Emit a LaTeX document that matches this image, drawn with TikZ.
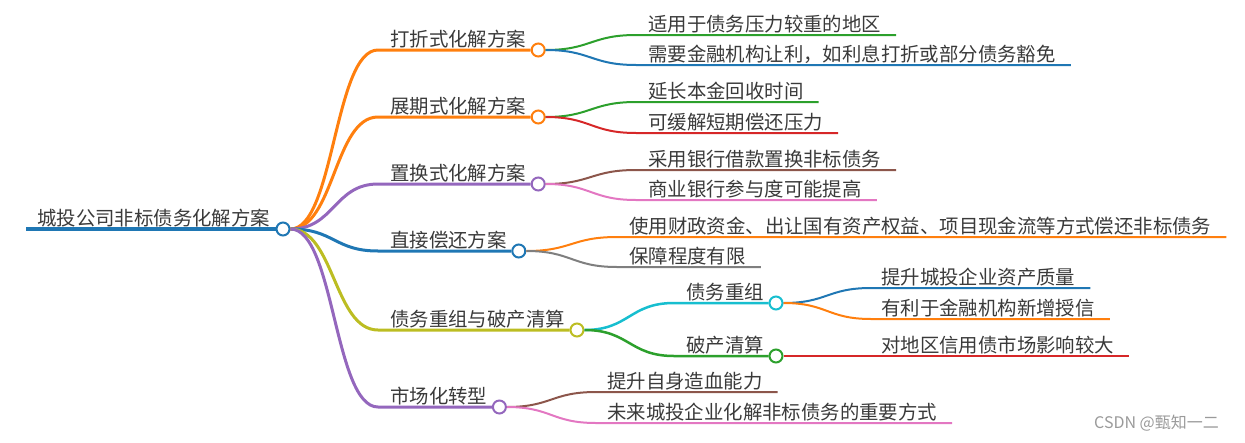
\documentclass[tikz,border=0pt]{standalone}
\usepackage{fontspec}
\setmainfont{Noto Sans CJK SC}
\usetikzlibrary{calc}
\definecolor{cOrange}{HTML}{FF7F0E}
\definecolor{cPurple}{HTML}{9467BD}
\definecolor{cBlue}{HTML}{1F77B4}
\definecolor{cOlive}{HTML}{BCBD22}
\definecolor{cCyan}{HTML}{17BECF}
\definecolor{cGreen}{HTML}{2CA02C}
\definecolor{cRed}{HTML}{D62728}
\definecolor{cBrown}{HTML}{8C564B}
\definecolor{cPink}{HTML}{E377C2}
\definecolor{cGray}{HTML}{7F7F7F}
\definecolor{txt}{HTML}{3A3A3A}
\definecolor{wm}{HTML}{9A9A9A}
\tikzset{
  lbl/.style={anchor=base west, inner sep=0pt, text=txt, font=\fontsize{19.4pt}{22pt}\selectfont},
  dot/.style={circle, draw=#1, fill=white, line width=2pt, minimum size=13pt, inner sep=0pt},
}
% leaf: #1 parent, #2 name, #3 hx, #4 y, #5 tx, #6 colour, #7 text
\newcommand{\mmleaf}[7]{%
  \coordinate (#2h) at (#3,#4);
  \node[lbl] (#2t) at (#5,#4-4) {#7};
  \draw[#6, line width=2pt] let \p1=(#1.east), \p2=(#2h) in
    (\p1) .. controls ({(\x1+\x2)/2},\y1) and ({(\x1+\x2)/2},\y2) .. (\p2)
    -- ($(#2h -| #2t.east)+(15,0)$);
}
% inner: #1 parent, #2 name, #3 hx, #4 y, #5 tx, #6 colour, #7 text, #8 line width
\newcommand{\mmmid}[8]{%
  \coordinate (#2h) at (#3,#4);
  \node[lbl] (#2t) at (#5,#4-4) {#7};
  \node[dot=#6] (#2) at ($(#2t.east |- #2h)+(12,0)$) {};
  \draw[#6, line width=#8] let \p1=(#1.east), \p2=(#2h) in
    (\p1) .. controls ({(\x1+\x2)/2},\y1) and ({(\x1+\x2)/2},\y2) .. (\p2)
    -- (#2.west);
}
\begin{document}
\begin{tikzpicture}[x=1pt,y=-1pt]
\useasboundingbox (0,0) rectangle (1245,442);
% root
\coordinate (r0) at (26,229);
\node[dot=cBlue] (root) at (283,229) {};
\draw[cBlue, line width=4pt] (r0) -- (root.west);
\node[lbl] (roott) at (37,225) {城投公司非标债务化解方案};
% level 1
\mmmid{root}{A}{378}{50}{390}{cOrange}{打折式化解方案}{3pt}
\mmmid{root}{B}{378}{117}{390}{cOrange}{展期式化解方案}{3pt}
\mmmid{root}{C}{378}{184}{390}{cPurple}{置换式化解方案}{3pt}
\mmmid{root}{D}{378}{251}{390}{cBlue}{直接偿还方案}{3pt}
\mmmid{root}{E}{378}{330}{390}{cOlive}{债务重组与破产清算}{3pt}
\mmmid{root}{F}{378}{407}{390}{cPurple}{市场化转型}{3pt}
% level 2
\mmleaf{A}{Aa}{636}{35}{648}{cGreen}{适用于债务压力较重的地区}
\mmleaf{A}{Ab}{636}{65}{648}{cBlue}{需要金融机构让利，如利息打折或部分债务豁免}
\mmleaf{B}{Ba}{636}{102}{648}{cGreen}{延长本金回收时间}
\mmleaf{B}{Bb}{636}{133}{648}{cRed}{可缓解短期偿还压力}
\mmleaf{C}{Ca}{636}{170}{648}{cBrown}{采用银行借款置换非标债务}
\mmleaf{C}{Cb}{636}{200}{648}{cPink}{商业银行参与度可能提高}
\mmleaf{D}{Da}{617}{237}{629}{cOrange}{使用财政资金、出让国有资产权益、项目现金流等方式偿还非标债务}
\mmleaf{D}{Db}{617}{267}{629}{cGray}{保障程度有限}
\mmmid{E}{Ea}{674}{303}{686}{cCyan}{债务重组}{2.5pt}
\mmmid{E}{Eb}{674}{356}{686}{cGreen}{破产清算}{2.5pt}
\mmleaf{Ea}{Eaa}{871}{288}{881}{cBlue}{提升城投企业资产质量}
\mmleaf{Ea}{Eab}{871}{319}{881}{cOrange}{有利于金融机构新增授信}
\mmleaf{Eb}{Eba}{871}{356}{881}{cRed}{对地区信用债市场影响较大}
\mmleaf{F}{Fa}{596}{392}{607}{cBrown}{提升自身造血能力}
\mmleaf{F}{Fb}{596}{423}{607}{cPink}{未来城投企业化解非标债务的重要方式}
% watermark
\node[anchor=base west, inner sep=0pt, text=wm, font=\fontsize{16pt}{18pt}\selectfont] (wmark) at (1094,428) {CSDN @甄知一二};
\end{tikzpicture}
\end{document}
